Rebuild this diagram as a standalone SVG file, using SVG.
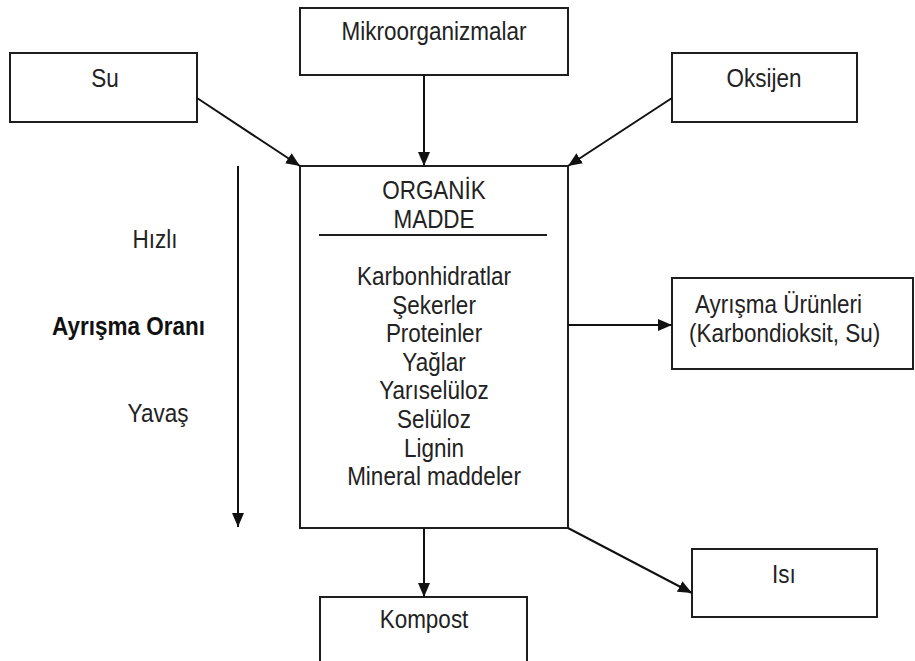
<svg xmlns="http://www.w3.org/2000/svg" width="915" height="661" viewBox="0 0 915 661">
  <style>
    .box { fill: #ffffff; stroke: #1e1e1e; stroke-width: 2; }
    .t { font-family: "Liberation Sans", Arial, sans-serif; font-size: 22.5px; fill: #222222; text-anchor: middle; }
    .ts { font-family: "Liberation Sans", Arial, sans-serif; font-size: 22.5px; fill: #222222; text-anchor: start; }
    .b { font-weight: bold; fill: #111111; }
    .conn { stroke: #111111; stroke-width: 2; fill: none; marker-end: url(#ah); }
  </style>
  <defs>
    <marker id="ah" markerUnits="userSpaceOnUse" markerWidth="14" markerHeight="12" viewBox="0 0 14 12" refX="14" refY="6" orient="auto">
      <path d="M0,0 L14,6 L0,12 Z" fill="#111111"/>
    </marker>
  </defs>
  <rect width="915" height="661" fill="#ffffff"/>

  <g id="su">
    <rect class="box" x="10" y="53" width="187" height="69"/>
    <text class="t" transform="translate(105,87) scale(1,1.12)">Su</text>
  </g>
  <g id="mikroorganizmalar">
    <rect class="box" x="300" y="8" width="268" height="67"/>
    <text class="t" transform="translate(434,40) scale(1,1.12)">Mikroorganizmalar</text>
  </g>
  <g id="oksijen">
    <rect class="box" x="672" y="53" width="185" height="69"/>
    <text class="t" transform="translate(764,87) scale(1,1.12)">Oksijen</text>
  </g>
  <g id="organik-madde">
    <rect class="box" x="300" y="166" width="268" height="362"/>
    <text class="t" transform="translate(434,199) scale(1,1.12)">ORGANİK</text>
    <text class="t" transform="translate(434,228) scale(1,1.12)">MADDE</text>
    <line x1="319" y1="235" x2="547" y2="235" stroke="#1e1e1e" stroke-width="2"/>
    <text class="t" transform="translate(434,285) scale(1,1.12)">Karbonhidratlar</text>
    <text class="t" transform="translate(434,313.6) scale(1,1.12)">Şekerler</text>
    <text class="t" transform="translate(434,342.2) scale(1,1.12)">Proteinler</text>
    <text class="t" transform="translate(434,370.8) scale(1,1.12)">Yağlar</text>
    <text class="t" transform="translate(434,399.4) scale(1,1.12)">Yarıselüloz</text>
    <text class="t" transform="translate(434,428) scale(1,1.12)">Selüloz</text>
    <text class="t" transform="translate(434,456.6) scale(1,1.12)">Lignin</text>
    <text class="t" transform="translate(434,485.2) scale(1,1.12)">Mineral maddeler</text>
  </g>
  <g id="ayrisma-urunleri">
    <rect class="box" x="672" y="278" width="241" height="91"/>
    <text class="ts" transform="translate(695,313) scale(1,1.12)">Ayrışma Ürünleri</text>
    <text class="ts" transform="translate(689,342) scale(1,1.12)">(Karbondioksit, Su)</text>
  </g>
  <g id="kompost">
    <rect class="box" x="320" y="597" width="207" height="90"/>
    <text class="t" transform="translate(424,628) scale(1,1.12)">Kompost</text>
  </g>
  <g id="isi">
    <rect class="box" x="692" y="549" width="185" height="68"/>
    <text class="t" transform="translate(784,583) scale(1,1.12)">Isı</text>
  </g>
  <g id="ayrisma-orani">
    <text class="t" transform="translate(155,248) scale(1,1.12)">Hızlı</text>
    <text class="t b" transform="translate(128.5,335) scale(1,1.12)">Ayrışma Oranı</text>
    <text class="t" transform="translate(158,422) scale(1,1.12)">Yavaş</text>
  </g>

  <g id="connectors">
    <line class="conn" x1="197" y1="98" x2="300" y2="166"/>
    <line class="conn" x1="424" y1="75" x2="424" y2="166"/>
    <line class="conn" x1="672" y1="98" x2="568" y2="166"/>
    <line class="conn" x1="568" y1="325" x2="672" y2="325"/>
    <line class="conn" x1="424" y1="528" x2="424" y2="597"/>
    <line class="conn" x1="568" y1="528" x2="692" y2="593"/>
    <line class="conn" x1="238" y1="166" x2="238" y2="527"/>
  </g>
</svg>
